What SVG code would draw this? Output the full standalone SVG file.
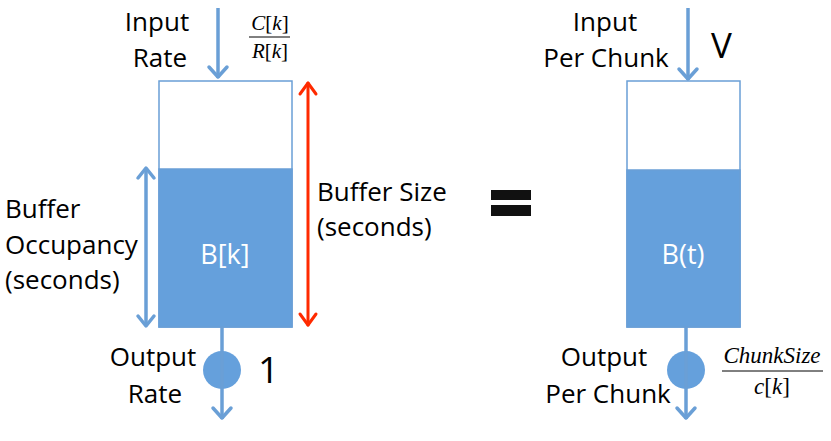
<svg xmlns="http://www.w3.org/2000/svg" width="831" height="441" viewBox="0 0 831 441">
<style>
.t{font-family:"Open Sans","Liberation Sans",sans-serif;font-size:26px;fill:#000}
.w{font-family:"Open Sans","Liberation Sans",sans-serif;font-size:27px;fill:#fff}
.m{font-family:"Liberation Serif",serif;font-size:21px;fill:#000}
.i{font-style:italic}
.ln{stroke:#6A9FD6;stroke-width:3.5;fill:none}
.hd{stroke:#6A9FD6;stroke-width:3.5;fill:none;stroke-linecap:round;stroke-linejoin:round}
.rd{stroke:#FF2A00;stroke-width:3;fill:none;stroke-linecap:round;stroke-linejoin:round}
</style>
<rect width="831" height="441" fill="#fff"/>
<g id="left-buffer">
<rect x="159" y="81" width="133" height="246" fill="#fff" stroke="#6A9FD6" stroke-width="1.5"/>
<rect x="159" y="169" width="133" height="158" fill="#65A0DC" stroke="#6A9FD6" stroke-width="1.5"/>
<text class="w" x="225" y="264" text-anchor="middle">B[k]</text>
</g>
<g id="left-input">
<text class="t" x="157" y="31" text-anchor="middle">Input</text>
<text class="t" x="160" y="67" text-anchor="middle">Rate</text>
<text class="m" x="270" y="30" text-anchor="middle"><tspan class="i">C</tspan>[<tspan class="i">k</tspan>]</text>
<line x1="249" y1="37" x2="290" y2="37" stroke="#000" stroke-width="1"/>
<text class="m" x="270" y="58" text-anchor="middle"><tspan class="i">R</tspan>[<tspan class="i">k</tspan>]</text>
</g>
<g id="left-occupancy">
<text class="t" x="5" y="218">Buffer</text>
<text class="t" x="5" y="254">Occupancy</text>
<text class="t" x="5" y="289">(seconds)</text>
</g>
<g id="left-size">
<text class="t" x="317" y="201">Buffer Size</text>
<text class="t" x="317" y="236">(seconds)</text>
</g>
<g id="left-output">
<circle cx="222" cy="370" r="19" fill="#65A0DC"/>
<text class="t" x="153" y="366" text-anchor="middle">Output</text>
<text class="t" x="155" y="403" text-anchor="middle">Rate</text>
<text class="t" x="258" y="383" style="font-size:37px">1</text>
</g>
<g id="equals">
<rect x="491" y="190" width="40" height="10" fill="#111"/>
<rect x="491" y="205" width="40" height="11" fill="#111"/>
</g>
<g id="right-buffer">
<rect x="627" y="81" width="113" height="246" fill="#fff" stroke="#6A9FD6" stroke-width="1.5"/>
<rect x="627" y="170" width="113" height="157" fill="#65A0DC" stroke="#6A9FD6" stroke-width="1.5"/>
<text class="w" x="683" y="264" text-anchor="middle">B(t)</text>
</g>
<g id="right-input">
<text class="t" x="605" y="31" text-anchor="middle">Input</text>
<text class="t" x="606" y="67" text-anchor="middle">Per Chunk</text>
<text class="t" x="711" y="58" style="font-size:35px">V</text>
</g>
<g id="right-output">
<circle cx="686" cy="370" r="19" fill="#65A0DC"/>
<text class="t" x="604" y="366" text-anchor="middle">Output</text>
<text class="t" x="608" y="403" text-anchor="middle">Per Chunk</text>
<text class="m i" x="772" y="363" text-anchor="middle" style="font-size:23px">ChunkSize</text>
<line x1="722" y1="371" x2="823" y2="371" stroke="#000" stroke-width="1"/>
<text class="m" x="772" y="394" text-anchor="middle" style="font-size:23px"><tspan class="i">c</tspan>[<tspan class="i">k</tspan>]</text>
</g>
<g id="connectors">
<line class="ln" x1="218" y1="8" x2="218" y2="78"/>
<polyline class="hd" points="209,67 218,77 227,67"/>
<line class="ln" x1="222" y1="327" x2="222" y2="419"/>
<polyline class="hd" points="213,408 222,418 231,408"/>
<line class="ln" x1="688" y1="8" x2="688" y2="80"/>
<polyline class="hd" points="679,69 688,79 697,69"/>
<line class="ln" x1="686" y1="327" x2="686" y2="419"/>
<polyline class="hd" points="677,408 686,418 695,408"/>
<line class="ln" x1="146" y1="168" x2="146" y2="326"/>
<polyline class="hd" points="138,178 146,168 154,178"/>
<polyline class="hd" points="138,316 146,326 154,316"/>
<line class="rd" x1="308" y1="83" x2="308" y2="325"/>
<polyline class="rd" points="300,94 308,83 316,94"/>
<polyline class="rd" points="300,314 308,325 316,314"/>
</g>
</svg>
